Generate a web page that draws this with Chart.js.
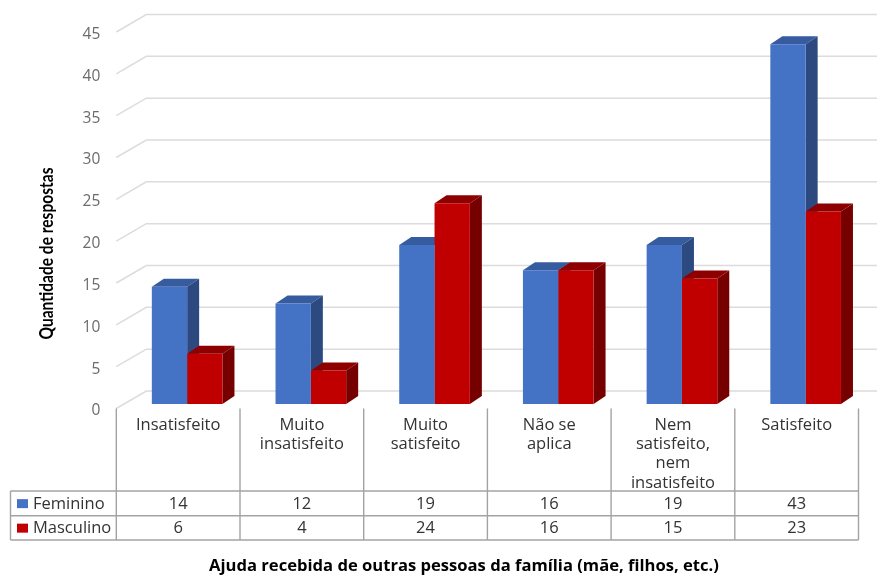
<!DOCTYPE html>
<html>
<head>
<meta charset="utf-8">
<title>Ajuda recebida de outras pessoas da família</title>
<script src="https://cdn.jsdelivr.net/npm/chart.js@4"></script>
<style>
  html, body { margin: 0; padding: 0; background: #fff; }
  canvas { display: block; }
</style>
</head>
<body>
<canvas id="chart" width="877" height="575"></canvas>
<script>
const categories = [
  "Insatisfeito",
  ["Muito", "insatisfeito"],
  ["Muito", "satisfeito"],
  ["Não se", "aplica"],
  ["Nem", "satisfeito,", "nem", "insatisfeito"],
  "Satisfeito"
];
const feminino = [14, 12, 19, 16, 19, 43];
const masculino = [6, 4, 24, 16, 15, 23];
const yTitle = "Quantidade de respostas";
const xTitle = "Ajuda recebida de outras pessoas da família (mãe, filhos, etc.)";

const FONT = '"Open Sans", sans-serif';
const TEXT = "#333333";
const GRID = "#dcdcdc";
const TABLE = "#a3a3a3";

// bars stand a little way into the floor, walls sit at the back of it
const axisLift = 2.5;
const barShift = { x: 9, y: -7 };
const barDepth = { x: 12, y: -8 };
const wallShift = { x: 30, y: -20 };
const tableRows = [491, 515.7, 540];
const tableLeft = 10.5;

// gridlines run along the side wall and then across the back wall
function drawWalls(chart) {
  const { ctx, scales: { x, y } } = chart;
  ctx.strokeStyle = GRID;
  ctx.lineWidth = 1.5;
  y.ticks.forEach(t => {
    const py = y.getPixelForValue(t.value);
    ctx.beginPath();
    ctx.moveTo(x.left, py - axisLift);
    ctx.lineTo(x.left + wallShift.x, py + wallShift.y);
    ctx.lineTo(chart.width, py + wallShift.y);
    ctx.stroke();
  });
}

// top and side faces go down first, left series before right series
function drawFaces(chart) {
  const ctx = chart.ctx;
  chart.data.datasets.forEach((ds, i) => {
    chart.getDatasetMeta(i).data.forEach(bar => {
      const l = bar.x - bar.width / 2;
      const r = bar.x + bar.width / 2;
      const t = bar.y;
      const b = bar.base;
      ctx.fillStyle = ds.topColor;
      ctx.beginPath();
      ctx.moveTo(l, t);
      ctx.lineTo(l + barDepth.x, t + barDepth.y);
      ctx.lineTo(r + barDepth.x, t + barDepth.y);
      ctx.lineTo(r, t);
      ctx.closePath();
      ctx.fill();
      ctx.fillStyle = ds.sideColor;
      ctx.beginPath();
      ctx.moveTo(r, t);
      ctx.lineTo(r + barDepth.x, t + barDepth.y);
      ctx.lineTo(r + barDepth.x, b + barDepth.y);
      ctx.lineTo(r, b);
      ctx.closePath();
      ctx.fill();
    });
  });
}

const bars3d = {
  id: "bars3d",
  beforeDatasetsDraw(chart) {
    const ctx = chart.ctx;
    ctx.save();
    drawWalls(chart);
    ctx.translate(barShift.x, barShift.y);
    drawFaces(chart);
  },
  afterDatasetsDraw(chart) {
    chart.ctx.restore();
  }
};

// data table under the axis, plus the two axis titles
const dataTable = {
  id: "dataTable",
  afterDraw(chart) {
    const { ctx, scales: { x, y } } = chart;
    const band = x.width / categories.length;
    ctx.save();
    ctx.strokeStyle = TABLE;
    ctx.lineWidth = 1.4;

    for (let i = 0; i <= categories.length; i++) {
      const px = x.left + i * band;
      ctx.beginPath();
      ctx.moveTo(px, y.bottom - axisLift);
      ctx.lineTo(px, tableRows[2]);
      ctx.stroke();
    }
    ctx.beginPath();
    ctx.moveTo(tableLeft, tableRows[0]);
    ctx.lineTo(tableLeft, tableRows[2]);
    ctx.stroke();
    tableRows.forEach(py => {
      ctx.beginPath();
      ctx.moveTo(tableLeft, py);
      ctx.lineTo(x.right, py);
      ctx.stroke();
    });

    ctx.font = "16.5px " + FONT;
    ctx.textBaseline = "middle";
    chart.data.datasets.forEach((ds, row) => {
      const cy = (tableRows[row] + tableRows[row + 1]) / 2 + 0.5;
      ctx.fillStyle = ds.backgroundColor;
      ctx.fillRect(17, cy - 4.7, 11, 9);
      ctx.fillStyle = TEXT;
      ctx.textAlign = "left";
      ctx.fillText(ds.label, 33, cy);
      ctx.textAlign = "center";
      ds.data.forEach((v, i) => {
        ctx.fillText(String(v), x.getPixelForTick(i), cy);
      });
    });

    ctx.fillStyle = "#000";
    ctx.textAlign = "center";
    ctx.font = "bold 16.6px " + FONT;
    ctx.fillText(xTitle, 464, 566);
    // tall, narrow lettering for the vertical title
    ctx.translate(47, 253.5);
    ctx.rotate(-Math.PI / 2);
    ctx.scale(0.84, 1);
    ctx.font = "bold 18.5px Lato, sans-serif";
    ctx.fillText(yTitle, 0, 0);
    ctx.restore();
  }
};

new Chart(document.getElementById("chart"), {
  type: "bar",
  data: {
    labels: categories,
    datasets: [
      {
        label: "Feminino",
        data: feminino,
        backgroundColor: "#4472c4",
        topColor: "#365c9f",
        sideColor: "#2c4a80",
        clip: false
      },
      {
        label: "Masculino",
        data: masculino,
        backgroundColor: "#c00000",
        topColor: "#8e0000",
        sideColor: "#760000",
        clip: false
      }
    ]
  },
  plugins: [bars3d, dataTable],
  options: {
    responsive: false,
    animation: false,
    layout: { padding: { top: 34.5, right: 18.5, left: 0, bottom: 0 } },
    plugins: { legend: { display: false }, tooltip: { enabled: false } },
    datasets: { bar: { categoryPercentage: 0.571, barPercentage: 1 } },
    scales: {
      x: {
        grid: { display: false, drawTicks: false },
        border: { display: false },
        afterFit(s) { s.height = 164; },
        ticks: {
          autoSkip: false,
          maxRotation: 0,
          padding: 4.5,
          color: TEXT,
          font: { family: FONT, size: 16.5, lineHeight: 1.17 }
        }
      },
      y: {
        min: 0,
        max: 45,
        grid: { display: false, drawTicks: false },
        border: { display: false },
        afterFit(s) { s.width = 116.3; },
        ticks: {
          stepSize: 5,
          padding: 16,
          color: "#6b6b6b",
          font: { family: FONT, size: 15.5 }
        }
      }
    }
  }
});
</script>
</body>
</html>
